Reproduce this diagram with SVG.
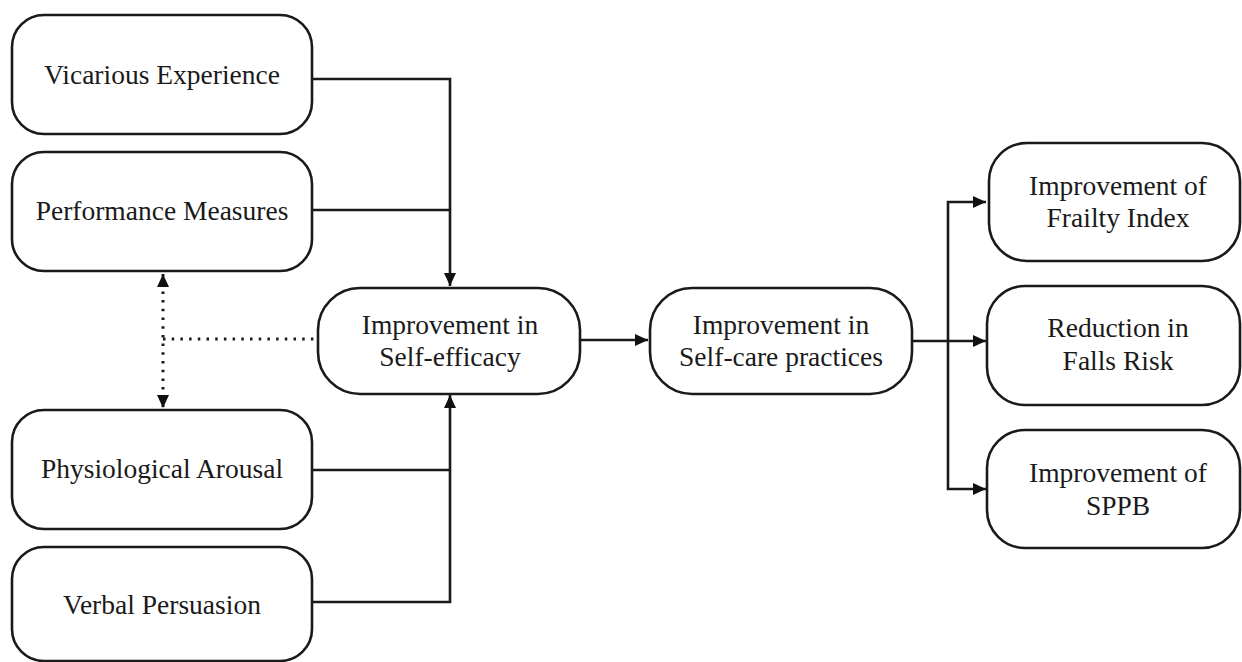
<svg xmlns="http://www.w3.org/2000/svg" width="1242" height="662" viewBox="0 0 1242 662">
<defs>
<marker id="arr" markerWidth="13" markerHeight="12" refX="13" refY="6" orient="auto-start-reverse" markerUnits="userSpaceOnUse">
<path d="M0,0 L13,6 L0,12 z" fill="#111"/>
</marker>
<style>
.box{fill:#fff;stroke:#1a1a1a;stroke-width:2.6}
.t{font-family:"Liberation Serif","Times New Roman",serif;font-size:27.5px;fill:#1a1a1a;text-anchor:middle}
.c{fill:none;stroke:#1a1a1a;stroke-width:2.6}
.d{fill:none;stroke:#1a1a1a;stroke-width:3;stroke-dasharray:2.5 6.2}
</style>
</defs>
<rect width="1242" height="662" fill="#fff"/>
<g id="connectors">
<polyline class="c" points="312,79 450,79 450,286" marker-end="url(#arr)"/>
<line class="c" x1="312" y1="210" x2="450" y2="210"/>
<line class="c" x1="312" y1="470" x2="450" y2="470"/>
<polyline class="c" points="312,602 450,602 450,395" marker-end="url(#arr)"/>
<line class="c" x1="580" y1="340" x2="648" y2="340" marker-end="url(#arr)"/>
<line class="c" x1="912" y1="341" x2="986" y2="341" marker-end="url(#arr)"/>
<polyline class="c" points="986,202 948,202 948,489 986,489" marker-start="url(#arr)" marker-end="url(#arr)"/>
<line class="d" x1="163" y1="339" x2="316" y2="339"/>
<line class="d" x1="163" y1="274" x2="163" y2="408" marker-start="url(#arr)" marker-end="url(#arr)"/>
</g>
<g id="vicarious">
<rect class="box" x="12" y="15" width="300" height="119" rx="32"/>
<text class="t" x="162" y="84">Vicarious Experience</text>
</g>
<g id="performance">
<rect class="box" x="12" y="152" width="300" height="119" rx="32"/>
<text class="t" x="162" y="220">Performance Measures</text>
</g>
<g id="physiological">
<rect class="box" x="12" y="410" width="300" height="119" rx="32"/>
<text class="t" x="162" y="478">Physiological Arousal</text>
</g>
<g id="verbal">
<rect class="box" x="12" y="547" width="300" height="114" rx="32"/>
<text class="t" x="162" y="614">Verbal Persuasion</text>
</g>
<g id="selfefficacy">
<rect class="box" x="318" y="288" width="262" height="106" rx="42"/>
<text class="t" x="450" y="334">Improvement in</text>
<text class="t" x="450" y="366">Self-efficacy</text>
</g>
<g id="selfcare">
<rect class="box" x="650" y="288" width="262" height="106" rx="42"/>
<text class="t" x="781" y="334">Improvement in</text>
<text class="t" x="781" y="366">Self-care practices</text>
</g>
<g id="frailty">
<rect class="box" x="989" y="143" width="251" height="118" rx="38"/>
<text class="t" x="1118" y="195">Improvement of</text>
<text class="t" x="1118" y="227">Frailty Index</text>
</g>
<g id="falls">
<rect class="box" x="987" y="286" width="253" height="119" rx="38"/>
<text class="t" x="1118" y="337">Reduction in</text>
<text class="t" x="1118" y="370">Falls Risk</text>
</g>
<g id="sppb">
<rect class="box" x="987" y="430" width="253" height="118" rx="38"/>
<text class="t" x="1118" y="482">Improvement of</text>
<text class="t" x="1118" y="515">SPPB</text>
</g>
</svg>
